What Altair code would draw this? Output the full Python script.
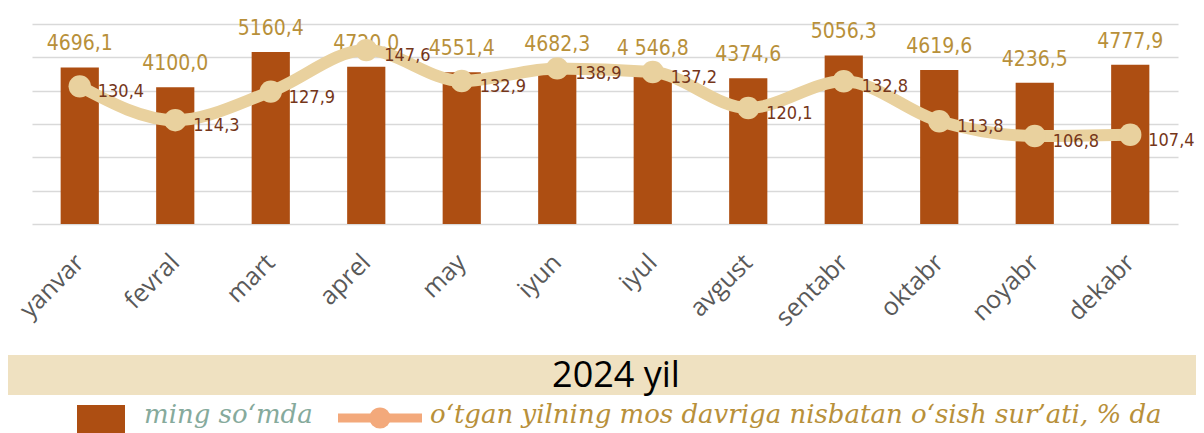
import altair as alt
import pandas as pd

months = ["yanvar", "fevral", "mart", "aprel", "may", "iyun",
          "iyul", "avgust", "sentabr", "oktabr", "noyabr", "dekabr"]
values = [4696.1, 4100.0, 5160.4, 4720.0, 4551.4, 4682.3,
          4546.8, 4374.6, 5056.3, 4619.6, 4236.5, 4777.9]
value_labels = ["4696,1", "4100,0", "5160,4", "4720,0", "4551,4", "4682,3",
                "4 546,8", "4374,6", "5056,3", "4619,6", "4236,5", "4777,9"]
growth = [130.4, 114.3, 127.9, 147.6, 132.9, 138.9,
          137.2, 120.1, 132.8, 113.8, 106.8, 107.4]
growth_labels = [f"{g:.1f}".replace(".", ",") for g in growth]
period_title = ["2024 yil"]
legend_bar = ["ming so‘mda"]
legend_line = ["o‘tgan yilning mos davriga nisbatan o‘sish sur’ati, % da"]

BAR = "#AD4E12"
LINE = "#E9D19E"
LEG_LINE = "#F3A97B"
GOLD = "#B8903A"
BROWN = "#75361A"
GRID = "#D9D9D9"
BAND = "#EFE1C1"
LEG_TEXT1 = "#86AA9C"
NARROW = "DejaVu Sans Condensed, sans-serif"
SERIF = "DejaVu Serif"

df = pd.DataFrame({
    "month": months,
    "value": values,
    "vlabel": value_labels,
    "growth": growth,
    "glabel": growth_labels,
})

base = alt.Chart(df)
x_enc = alt.X(
    "month:N", sort=months,
    scale=alt.Scale(paddingInner=0.6, paddingOuter=0.3),
    axis=alt.Axis(title=None, labelAngle=-45, labelAlign="right", labelBaseline="middle",
                  labelFontSize=25, labelFont="Open Sans", labelColor="#595959",
                  labelPadding=34, labelOffset=0, ticks=False,
                  domainColor=GRID, domainWidth=1.5, grid=False),
)
y_bar = alt.Y("value:Q", scale=alt.Scale(domain=[0, 6000], nice=False),
              axis=alt.Axis(title=None, labels=False, ticks=False, domain=False, grid=True,
                            gridColor=GRID, gridWidth=1.5,
                            values=[1000, 2000, 3000, 4000, 5000, 6000]))
y_line = alt.Y("growth:Q", scale=alt.Scale(domain=[65, 160], nice=False, zero=False), axis=None)

bars = base.mark_bar(color=BAR).encode(x=x_enc, y=y_bar)
bar_text = base.mark_text(baseline="alphabetic", dy=-17, fontSize=21, font=NARROW,
                          color=GOLD).encode(x=x_enc, y=y_bar, text="vlabel:N")
bar_layer = alt.layer(bars, bar_text)

line = base.mark_line(color=LINE, strokeWidth=12, interpolate="monotone").encode(x=x_enc, y=y_line)
points = base.mark_circle(size=500, color=LINE, opacity=1).encode(x=x_enc, y=y_line)
line_text = base.mark_text(align="left", baseline="middle", dx=18, dy=6, fontSize=18,
                           font=NARROW, color=BROWN).encode(x=x_enc, y=y_line, text="glabel:N")
line_layer = alt.layer(line, points, line_text)

tdf = pd.DataFrame({"t": period_title})
band = alt.Chart(tdf).mark_rect(color=BAND).encode(
    x=alt.value(-24), x2=alt.value(1164), y=alt.value(331), y2=alt.value(371))
title = alt.Chart(tdf).mark_text(fontSize=36, font="Open Sans", color="black",
                                 align="center", baseline="middle").encode(
    x=alt.value(584), y=alt.value(352), text="t:N")

leg_rect = alt.Chart(pd.DataFrame({"t": legend_bar})).mark_rect(color=BAR).encode(
    x=alt.value(45), x2=alt.value(93), y=alt.value(381), y2=alt.value(415))
leg_text1 = alt.Chart(pd.DataFrame({"t": legend_bar})).mark_text(
    fontSize=26, font=SERIF, fontStyle="italic", color=LEG_TEXT1,
    align="left", baseline="alphabetic").encode(x=alt.value(112), y=alt.value(399), text="t:N")
leg_rule = alt.Chart(pd.DataFrame({"t": legend_line})).mark_rule(color=LEG_LINE, strokeWidth=9).encode(
    x=alt.value(306), x2=alt.value(390), y=alt.value(394))
leg_circle = alt.Chart(pd.DataFrame({"t": legend_line})).mark_circle(size=450, color=LEG_LINE, opacity=1).encode(
    x=alt.value(348), y=alt.value(394))
leg_text2 = alt.Chart(pd.DataFrame({"t": legend_line})).mark_text(
    fontSize=26, font=SERIF, fontStyle="italic", color=GOLD,
    align="left", baseline="alphabetic").encode(x=alt.value(398), y=alt.value(399), text="t:N")

chart = alt.layer(
    bar_layer, line_layer, band, title, leg_rect, leg_text1, leg_rule, leg_circle, leg_text2
).resolve_scale(y="independent").properties(
    width=1146, height=200,
    autosize=alt.AutoSizeParams(type="none"),
    padding={"left": 24, "top": 16, "right": 18, "bottom": 209},
).configure_view(stroke=None)

chart.save("out.html", embed_options={"renderer": "svg", "actions": False})
